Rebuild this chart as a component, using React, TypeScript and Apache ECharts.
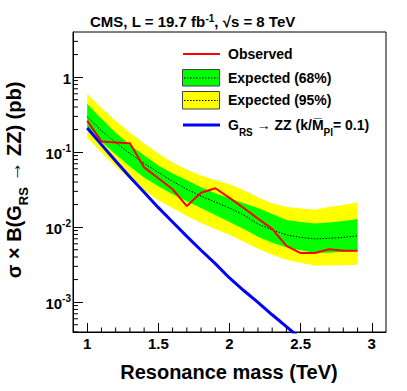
import React, { useEffect, useRef } from "react";
import * as echarts from "echarts";

const masses = [1.0, 1.1, 1.2, 1.3, 1.4, 1.5, 1.6, 1.7, 1.8, 1.9, 2.0, 2.1, 2.2, 2.3, 2.4, 2.5, 2.6, 2.7, 2.8, 2.9];
const observed = [0.262, 0.139, 0.135, 0.131, 0.0626, 0.0448, 0.032, 0.0191, 0.0288, 0.033, 0.0246, 0.018, 0.013, 0.00947, 0.00564, 0.00452, 0.00452, 0.00507, 0.00484, 0.00484];
const expected = [0.296, 0.193, 0.134, 0.0958, 0.0707, 0.0537, 0.0408, 0.032, 0.0259, 0.0216, 0.018, 0.0145, 0.011, 0.00918, 0.00789, 0.00731, 0.00698, 0.0071, 0.00731, 0.00766];
const band68Up = [0.44, 0.278, 0.182, 0.126, 0.0902, 0.0665, 0.0521, 0.0421, 0.034, 0.0283, 0.0243, 0.0209, 0.018, 0.015, 0.01245, 0.0117, 0.0112, 0.0115, 0.0121, 0.0128];
const band68Down = [0.205, 0.138, 0.093, 0.0645, 0.0461, 0.0351, 0.0275, 0.0222, 0.018, 0.0145, 0.0117, 0.00947, 0.00742, 0.00618, 0.00539, 0.00492, 0.00456, 0.00456, 0.0047, 0.00477];
const band95Up = [0.596, 0.389, 0.262, 0.182, 0.13, 0.0958, 0.0729, 0.0589, 0.049, 0.0421, 0.0373, 0.031, 0.0251, 0.0209, 0.0185, 0.0177, 0.0171, 0.0185, 0.0197, 0.0215];
const band95Down = [0.156, 0.0988, 0.0645, 0.0434, 0.031, 0.0229, 0.018, 0.0141, 0.0114, 0.00947, 0.00789, 0.00637, 0.00515, 0.00429, 0.00368, 0.00336, 0.00307, 0.00307, 0.00311, 0.00316];
const theoryMasses = [1.0, 1.1, 1.2, 1.3, 1.4, 1.5, 1.6, 1.7, 1.8, 1.9, 2.0, 2.1, 2.2, 2.3, 2.4, 2.5];
const theory = [0.21, 0.126, 0.0763, 0.0466, 0.0292, 0.0182, 0.0117, 0.00753, 0.00492, 0.00326, 0.0021, 0.00143, 0.000994, 0.000679, 0.000471, 0.000327];

const xMin = 0.9;
const xMax = 3.1;
const yMin = 4e-4;
const yMax = 4;
const xMinorTicks = [1.1, 1.2, 1.3, 1.4, 1.6, 1.7, 1.8, 1.9, 2.1, 2.2, 2.3, 2.4, 2.6, 2.7, 2.8, 2.9];
const yDecades = [-4, -3, -2, -1, 0];
const yMinorMultipliers = [2, 3, 4, 5, 6, 7, 8, 9];

const titleText = "CMS, L = 19.7 fb{sup|-1}, √s = 8 TeV";
const yTitleText = "σ × B(G{sub|RS} → ZZ) (pb)";
const xTitleText = "Resonance mass (TeV)";
const legendLabels = [
  "Observed",
  "Expected (68%)",
  "Expected (95%)",
  "G{sub|RS} → ZZ (k/M\u0305{sub|Pl}= 0.1)",
];

const FONT = "'Liberation Sans', Arial, Helvetica, sans-serif";

function pairs(xs: number[], ys: number[]) {
  return xs.map((x, i) => [x, ys[i]]);
}

function bandSeries(up: number[], down: number[], color: string, z: number) {
  return {
    type: "custom",
    coordinateSystem: "cartesian2d",
    silent: true,
    z,
    clip: true,
    data: [[masses[0], up[0]]],
    renderItem: (_params: any, api: any) => {
      const top = masses.map((m, i) => api.coord([m, up[i]]));
      const bottom = masses.map((m, i) => api.coord([m, down[i]])).reverse();
      return {
        type: "polygon",
        shape: { points: top.concat(bottom) },
        style: { fill: color, stroke: null },
      };
    },
  };
}

export default function App() {
  const ref = useRef<HTMLDivElement>(null);

  useEffect(() => {
    if (!ref.current) return;
    const chart = echarts.init(ref.current, null, { renderer: "svg" });

    const yMinorValues: number[] = [];
    yDecades.forEach((k) => {
      yMinorMultipliers.forEach((j) => {
        const v = j * Math.pow(10, k);
        if (v > yMin * 0.999 && v < yMax * 0.999) yMinorValues.push(v);
      });
    });

    const supStyle = { fontSize: 10, fontWeight: "bold", fontFamily: FONT, verticalAlign: "top", lineHeight: 9, color: "#000" };

    const option: any = {
      animation: false,
      backgroundColor: "#fff",
      grid: {
        left: 73,
        right: 21,
        top: 32,
        bottom: 59,
        show: true,
        borderColor: "#000",
        borderWidth: 1,
        backgroundColor: "transparent",
      },
      xAxis: {
        type: "value",
        min: xMin,
        max: xMax,
        splitNumber: 5,
        splitLine: { show: false },
        axisLine: { show: true, onZero: false, lineStyle: { color: "#000", width: 1 } },
        axisTick: { show: true, inside: true, length: 9, lineStyle: { color: "#000", width: 1 } },
        axisLabel: {
          showMinLabel: false,
          showMaxLabel: false,
          margin: 4,
          color: "#000",
          fontSize: 15,
          fontWeight: "bold",
          fontFamily: FONT,
        },
      },
      yAxis: {
        type: "log",
        logBase: 10,
        min: yMin,
        max: yMax,
        splitLine: { show: false },
        axisLine: { show: true, lineStyle: { color: "#000", width: 1 } },
        axisTick: { show: true, inside: true, length: 10, lineStyle: { color: "#000", width: 1 } },
        axisLabel: {
          showMinLabel: false,
          showMaxLabel: false,
          margin: 2,
          color: "#000",
          fontSize: 15,
          fontWeight: "bold",
          fontFamily: FONT,
          formatter: (v: number) => {
            const e = Math.round(Math.log10(v));
            if (e === 0) return "{b|1}";
            return "{b|10}{sup|" + e + "}";
          },
          rich: {
            b: { fontSize: 15, fontWeight: "bold", fontFamily: FONT, lineHeight: 17, color: "#000", verticalAlign: "bottom" },
            sup: supStyle,
          },
        },
      },
      series: [
        bandSeries(band95Up, band95Down, "#ffff00", 1),
        bandSeries(band68Up, band68Down, "#00ff00", 2),
        {
          type: "line",
          name: "Expected",
          data: pairs(masses, expected),
          showSymbol: false,
          symbol: "none",
          z: 3,
          lineStyle: { color: "#000", width: 1, type: [1.5, 1.5] },
        },
        {
          type: "line",
          name: "Observed",
          data: pairs(masses, observed),
          showSymbol: false,
          symbol: "none",
          z: 4,
          lineStyle: { color: "#ff0000", width: 2 },
        },
        {
          type: "line",
          name: "Theory",
          data: pairs(theoryMasses, theory),
          showSymbol: false,
          symbol: "none",
          z: 5,
          clip: true,
          lineStyle: { color: "#0000ff", width: 3 },
        },
        {
          type: "custom",
          coordinateSystem: "cartesian2d",
          silent: true,
          z: 6,
          clip: false,
          data: [[1, 0.1]],
          renderItem: (_params: any, api: any) => {
            const children: any[] = [];
            yMinorValues.forEach((v) => {
              const p = api.coord([xMin, v]);
              children.push({
                type: "line",
                shape: { x1: p[0], y1: p[1], x2: p[0] + 5, y2: p[1] },
                style: { stroke: "#000", lineWidth: 1 },
              });
            });
            xMinorTicks.forEach((m) => {
              const p = api.coord([m, yMin]);
              children.push({
                type: "line",
                shape: { x1: p[0], y1: p[1], x2: p[0], y2: p[1] - 4.5 },
                style: { stroke: "#000", lineWidth: 1 },
              });
            });
            return { type: "group", children };
          },
        },
      ],
      graphic: [
        {
          type: "text",
          x: 90,
          y: 21,
          style: {
            text: titleText,
            fontSize: 15,
            fontWeight: "bold",
            fontFamily: FONT,
            fill: "#000",
            align: "left",
            verticalAlign: "middle",
            rich: {
              b: { fontSize: 15, fontWeight: "bold", fontFamily: FONT },
              sup: supStyle,
            },
          },
        },
        {
          type: "text",
          x: 229,
          y: 372,
          style: {
            text: xTitleText,
            fontSize: 20,
            fontWeight: "bold",
            fontFamily: FONT,
            fill: "#000",
            align: "center",
            verticalAlign: "middle",
          },
        },
        {
          type: "text",
          x: 14,
          y: 180,
          rotation: Math.PI / 2,
          style: {
            text: yTitleText,
            fontSize: 20,
            fontWeight: "bold",
            fontFamily: FONT,
            fill: "#000",
            align: "center",
            verticalAlign: "middle",
            rich: {
              sub: { fontSize: 13, fontWeight: "bold", fontFamily: FONT, verticalAlign: "bottom", lineHeight: 12, padding: [0, 0, -6, 0] },
            },
          },
        },
        // Legend
        {
          type: "line",
          shape: { x1: 183, y1: 54, x2: 220, y2: 54 },
          style: { stroke: "#ff0000", lineWidth: 2 },
        },
        {
          type: "rect",
          shape: { x: 182.5, y: 69.5, width: 37, height: 16.5 },
          style: { fill: "#00ff00", stroke: "#444", lineWidth: 1 },
        },
        {
          type: "line",
          shape: { x1: 184, y1: 78, x2: 218, y2: 78 },
          style: { stroke: "#000", lineWidth: 1, lineDash: [1.5, 1.5] },
        },
        {
          type: "rect",
          shape: { x: 182.5, y: 91.5, width: 37, height: 17.5 },
          style: { fill: "#ffff00", stroke: "#444", lineWidth: 1 },
        },
        {
          type: "line",
          shape: { x1: 184, y1: 100.5, x2: 218, y2: 100.5 },
          style: { stroke: "#000", lineWidth: 1, lineDash: [1.5, 1.5] },
        },
        {
          type: "line",
          shape: { x1: 183, y1: 125, x2: 220, y2: 125 },
          style: { stroke: "#0000ff", lineWidth: 3 },
        },
        ...legendLabels.map((t, i) => ({
          type: "text",
          x: 228,
          y: [54, 78, 100, 125][i],
          style: {
            text: t,
            fontSize: 14,
            fontWeight: "bold",
            fontFamily: FONT,
            fill: "#000",
            align: "left",
            verticalAlign: "middle",
            rich: {
              sub: { fontSize: 10, fontWeight: "bold", fontFamily: FONT, verticalAlign: "bottom", lineHeight: 10, padding: [0, 0, -5, 0] },
            },
          },
        })),
      ],
    };

    chart.setOption(option);
    return () => chart.dispose();
  }, []);

  return (
    <div
      ref={ref}
      style={{ position: "fixed", left: 0, top: 0, width: 407, height: 391, background: "#fff" }}
    />
  );
}
